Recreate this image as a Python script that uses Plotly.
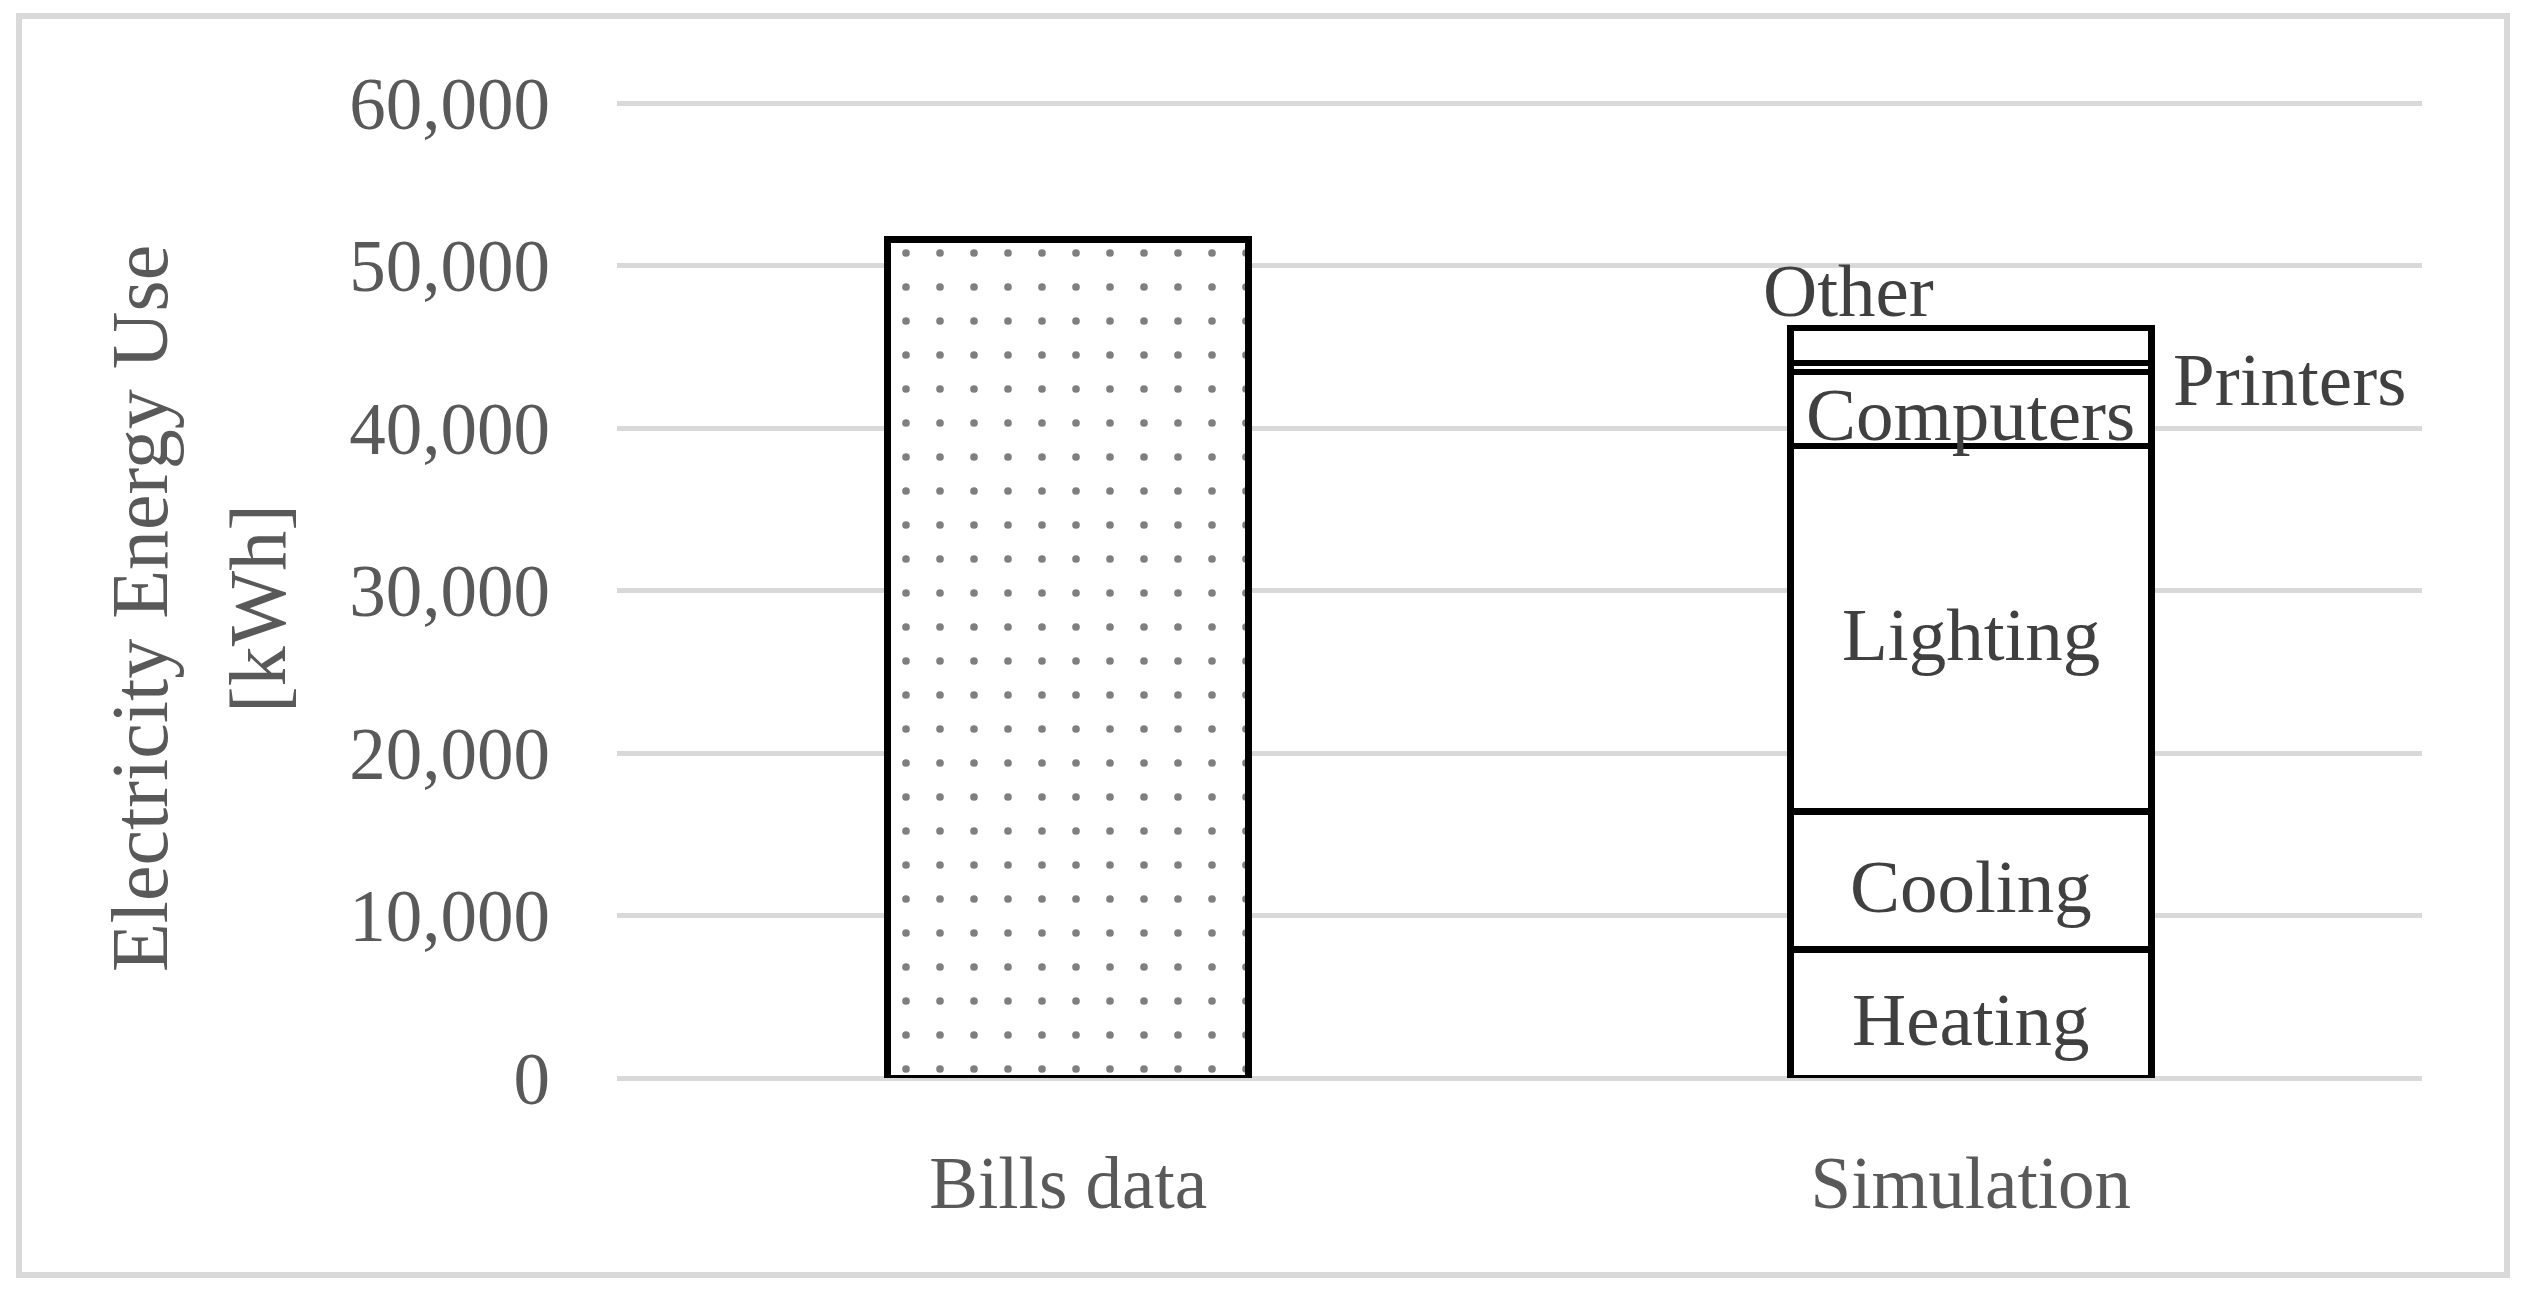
import plotly.graph_objects as go

# data (kWh)
categories = ["Bills data", "Simulation"]
bills_value = [51600]
sim_names = ["Heating", "Cooling", "Lighting", "Computers", "Printers", "Other"]
sim_values = [7900, 8500, 22500, 4550, 550, 2150]
y_ticks = [0, 10000, 20000, 30000, 40000, 50000, 60000]
y_title = ["Electricity Energy Use", "[kWh]"]

W, H = 2528, 1299
ML, MR, MT, MB = 617, 106, 100, 221
Y_MAX = 60185  # a little headroom so the 60,000 gridline is kept
FONT = "Liberation Serif"
TICK_COL = "#595959"
LAB_COL = "#404040"


def px_x(px):
    return (px - ML) / (W - ML - MR)


def px_y(py):
    return (H - MB - py) / (H - MT - MB)


fig = go.Figure()

fig.add_trace(go.Bar(
    x=[categories[0]], y=bills_value, name=categories[0],
    marker=dict(color="white", line=dict(color="black", width=7),
                pattern=dict(shape=".", size=34, solidity=0.04,
                             fgcolor="black", bgcolor="white", fillmode="overlay")),
    hoverinfo="skip",
))

for name, val in zip(sim_names, sim_values):
    fig.add_trace(go.Bar(
        x=[categories[1]], y=[val], name=name,
        marker=dict(color="white", line=dict(color="black", width=6.5)),
        hoverinfo="skip",
    ))

# segment labels
annotations = []
base = 0
for name, val in zip(sim_names, sim_values):
    mid = base + val / 2
    top = base + val
    if name == "Other":
        annotations.append(dict(x=categories[1], y=top, text=name, showarrow=False,
                                xanchor="center", yanchor="middle", xshift=-122, yshift=38))
    elif name == "Printers":
        annotations.append(dict(x=categories[1], y=mid, text=name, showarrow=False,
                                xanchor="left", yanchor="middle", xshift=200, yshift=-12))
    else:
        annotations.append(dict(x=categories[1], y=mid, text=name, showarrow=False,
                                xanchor="center", yanchor="middle", yshift=-6))
    base = top
for a in annotations:
    a["font"] = dict(family=FONT, size=75, color=LAB_COL)

# y axis title as two lines
for txt, xp in zip(y_title, [140, 258]):
    annotations.append(dict(x=px_x(xp), y=px_y(609), xref="paper", yref="paper",
                            text=txt, textangle=-90, showarrow=False,
                            xanchor="center", yanchor="middle",
                            font=dict(family=FONT, size=80, color=TICK_COL)))

fig.update_layout(
    width=W, height=H,
    margin=dict(l=ML, r=MR, t=MT, b=MB),
    paper_bgcolor="white", plot_bgcolor="white",
    barmode="stack", bargap=0.6, showlegend=False,
    font=dict(family=FONT, size=73, color=TICK_COL),
    annotations=annotations,
    shapes=[dict(type="rect", xref="paper", yref="paper",
                 x0=px_x(19), x1=px_x(2507), y0=px_y(1275), y1=px_y(16),
                 line=dict(color="#d9d9d9", width=6), fillcolor="rgba(0,0,0,0)")],
)
fig.update_xaxes(showline=False, showgrid=False, ticks="", ticklabelstandoff=56,
                 tickfont=dict(family=FONT, size=73, color=TICK_COL))
fig.update_yaxes(range=[0, Y_MAX], tickvals=y_ticks, tickformat=",d",
                 showgrid=True, gridcolor="#d9d9d9", gridwidth=5,
                 zeroline=True, zerolinecolor="#d9d9d9", zerolinewidth=5,
                 showline=False, ticks="", ticklabelstandoff=66,
                 tickfont=dict(family=FONT, size=73, color=TICK_COL))

fig.write_html("out.html", config={"displayModeBar": False},
               post_script="document.body.style.margin='0';")
